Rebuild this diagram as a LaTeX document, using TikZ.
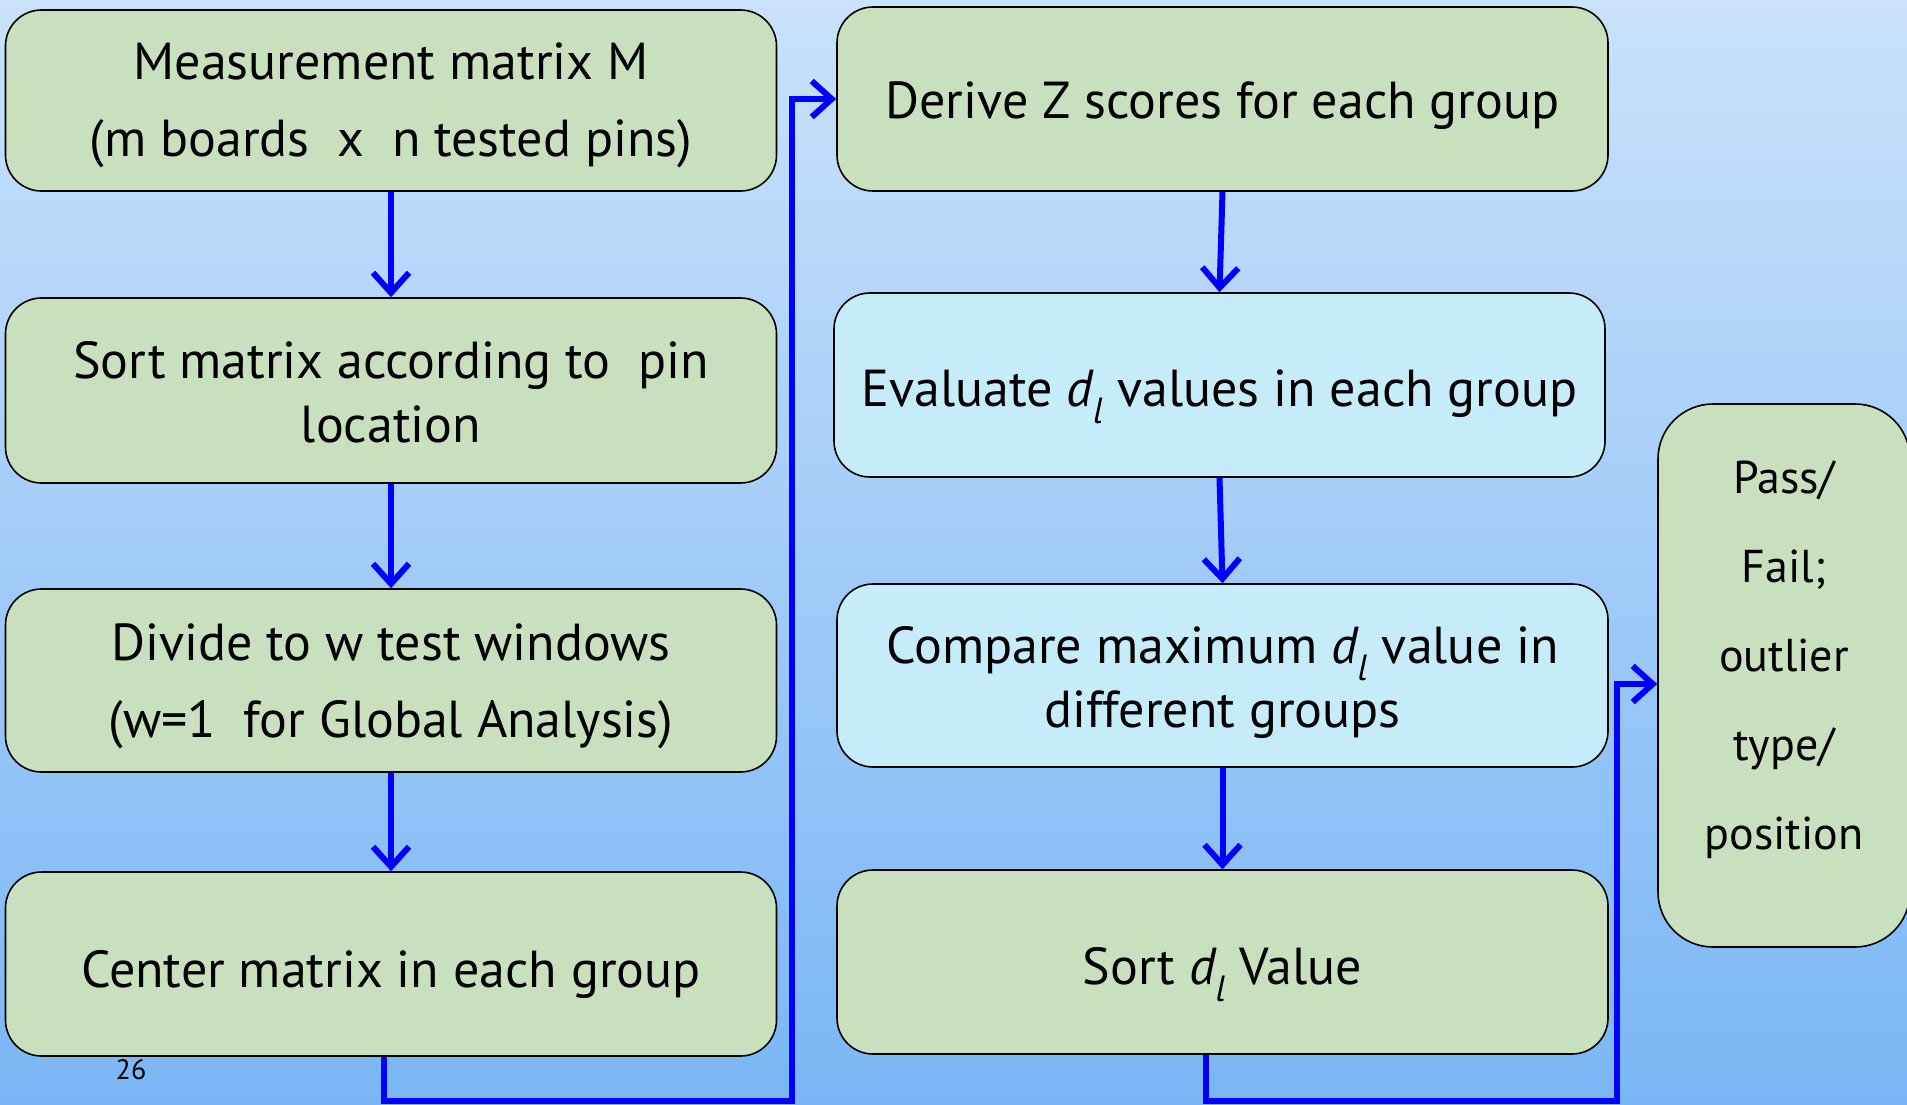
\documentclass[tikz,border=0pt]{standalone}
\usepackage{fontspec}
\setmainfont{PT Sans}
\usetikzlibrary{arrows.meta}
\definecolor{bgtop}{HTML}{CAE2FB}
\definecolor{bgbot}{HTML}{7AB6F5}
\definecolor{greenfill}{HTML}{C9E0BF}
\definecolor{cyanfill}{HTML}{C6ECF9}
\definecolor{flow}{HTML}{0000FF}
\newcommand{\lowered}[2]{\raisebox{#1}[\height][\depth]{#2}}
\newcommand{\twolines}[3]{\lowered{#1}{\begin{tabular}{@{}c@{}}#2\\#3\end{tabular}}}
\begin{document}
\begin{tikzpicture}[x=1pt,y=-1pt,
  box/.style={draw=black, line width=1.6pt, rounded corners=36pt, align=center,
    inner sep=0pt, minimum width=771pt, font=\fontsize{52}{77}\selectfont},
  tightbox/.style={font=\fontsize{52}{64}\selectfont},
  gbox/.style={box, fill=greenfill},
  cbox/.style={box, fill=cyanfill},
  flowline/.style={draw=flow, line width=6pt},
  flowarrow/.style={flowline, -{Straight Barb[length=20pt,width=36pt]}},
  sidetext/.style={align=center, font=\fontsize{46}{89}\selectfont}]
\useasboundingbox (0,0) rectangle (1907,1104);
\clip (0,0) rectangle (1907,1104);
\fill[top color=bgtop, bottom color=bgbot] (0,0) rectangle (1907,1104);

% left column
\node[gbox, minimum height=181pt] (b1) at (391,100.5) {\twolines{-2pt}{Measurement matrix M}{(m boards~~x~~n tested pins)}};
\node[gbox, tightbox, minimum height=185pt] (b2) at (391,390.5) {\twolines{-7pt}{Sort matrix according to~~pin}{location}};
\node[gbox, minimum height=183pt] (b3) at (391,680.5) {\twolines{-3pt}{Divide to w test windows}{(w=1~~for Global Analysis)}};
\node[gbox, minimum height=184pt] (b4) at (391,964) {\lowered{-10pt}{Center matrix in each group}};

% middle column
\node[gbox, minimum height=184pt] (b5) at (1222.5,99) {\lowered{-7pt}{Derive Z scores for each group}};
\node[cbox, minimum height=184pt] (b6) at (1219.5,385) {\lowered{-12pt}{Evaluate \textit{d\textsubscript{l}} values in each group}};
\node[cbox, tightbox, minimum height=183pt] (b7) at (1222.5,675.5) {\twolines{-7pt}{Compare maximum \textit{d\textsubscript{l}} value in}{different groups}};
\node[gbox, minimum height=184pt] (b8) at (1222.5,962) {\lowered{-13pt}{Sort \textit{d\textsubscript{l}} Value}};

% right box
\node[draw=black, line width=1.6pt, fill=greenfill, rounded corners=55pt,
  minimum width=252pt, minimum height=543pt, inner sep=0pt] (r) at (1784,675.5) {};
\node[sidetext] (rt) at (1784,660) {Pass/\\Fail;\\outlier\\type/\\position};

% page number
\node[font=\fontsize{28}{30}\selectfont] (pn) at (131,1070) {26};

% connectors
\coordinate (c1) at (792,1101);
\coordinate (c3) at (1617,1101);
\draw[flowarrow] (b1.south) -- (b2.north);
\draw[flowarrow] (b2.south) -- (b3.north);
\draw[flowarrow] (b3.south) -- (b4.north);
\draw[flowarrow] ([xshift=-7pt]b4.south) |- (c1) |- (b5.west);
\draw[flowarrow] (b5.south) -- (b6.north);
\draw[flowarrow] (b6.south) -- (b7.north);
\draw[flowarrow] (b7.south) -- (b8.north);
\draw[flowarrow] ([xshift=-16.5pt]b8.south) |- (c3) |- ([yshift=-8.5pt]r.west);
\end{tikzpicture}
\end{document}
